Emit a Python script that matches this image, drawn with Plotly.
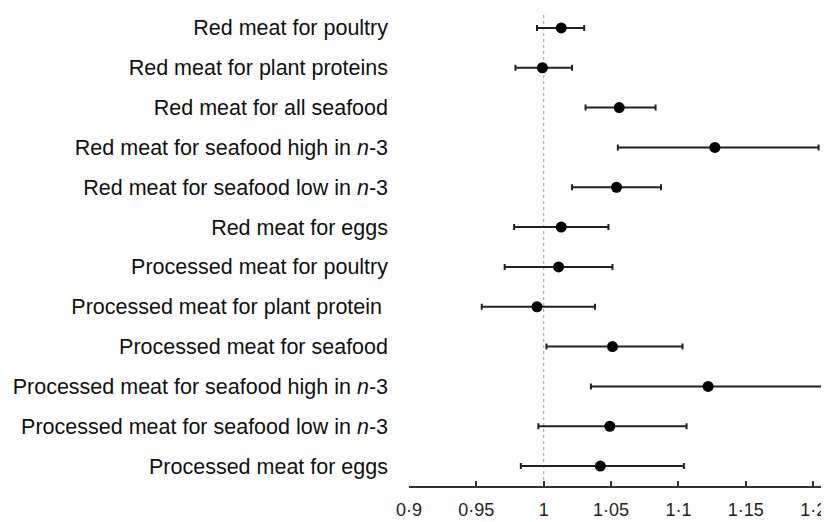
import plotly.graph_objects as go

categories = [
    "Red meat for poultry",
    "Red meat for plant proteins",
    "Red meat for all seafood",
    "Red meat for seafood high in <i>n</i>-3",
    "Red meat for seafood low in <i>n</i>-3",
    "Red meat for eggs",
    "Processed meat for poultry",
    "Processed meat for plant protein ",
    "Processed meat for seafood",
    "Processed meat for seafood high in <i>n</i>-3",
    "Processed meat for seafood low in <i>n</i>-3",
    "Processed meat for eggs",
]
estimate = [1.013, 0.999, 1.056, 1.127, 1.054, 1.013, 1.011, 0.995, 1.051, 1.122, 1.049, 1.042]
ci_low   = [0.995, 0.979, 1.031, 1.055, 1.021, 0.978, 0.971, 0.954, 1.002, 1.035, 0.996, 0.983]
ci_high  = [1.030, 1.021, 1.083, 1.204, 1.087, 1.048, 1.051, 1.038, 1.103, 1.230, 1.106, 1.104]

tick_vals = [0.9, 0.95, 1.0, 1.05, 1.1, 1.15, 1.2]
tick_text = ["0·9", "0·95", "1", "1·05", "1·1", "1·15", "1·2"]

err_plus = [h - e for h, e in zip(ci_high, estimate)]
err_minus = [e - l for e, l in zip(estimate, ci_low)]

fig = go.Figure()
fig.add_trace(go.Scatter(
    x=estimate, y=categories, mode="markers",
    marker=dict(color="black", size=11),
    error_x=dict(type="data", symmetric=False, array=err_plus, arrayminus=err_minus,
                 color="#222222", thickness=2, width=3),
    cliponaxis=True, showlegend=False,
))

fig.add_shape(type="line", xref="x", yref="paper", x0=1, x1=1, y0=0, y1=0.99,
              line=dict(color="#999999", width=1, dash="3px,3px"), layer="below")

fig.update_layout(
    width=821, height=514,
    margin=dict(l=401, r=0, t=0, b=36, autoexpand=False),
    paper_bgcolor="white", plot_bgcolor="white",
    font=dict(family="Liberation Sans, Arial, sans-serif", color="#111111"),
    xaxis=dict(range=[0.9, 1.2117], tickvals=tick_vals, ticktext=tick_text,
               showgrid=False, zeroline=False, showline=True, linecolor="#333333",
               linewidth=2, ticks="inside", ticklen=5, tickwidth=2, tickcolor="#333333",
               tickfont=dict(size=18, color="#222222"), ticklabelstandoff=6,
               automargin=False),
    yaxis=dict(categoryorder="array", categoryarray=categories, autorange=False,
               range=[11.5, -0.5], showgrid=False, zeroline=False, showline=False,
               ticks="", tickfont=dict(size=21.5, color="#111111"), ticklabelstandoff=20,
               automargin=False),
)

fig.write_html("out.html")
